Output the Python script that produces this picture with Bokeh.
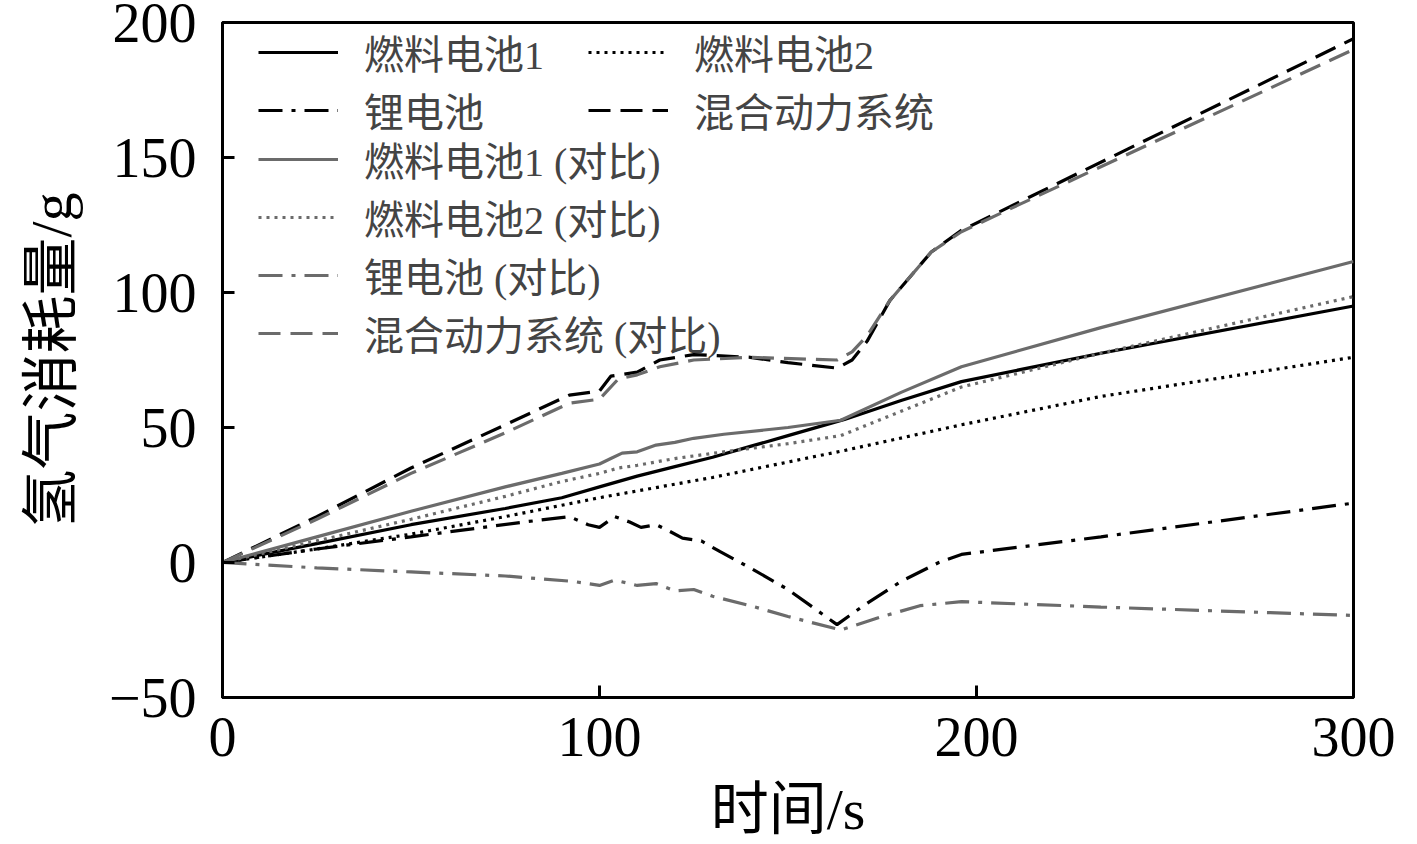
from bokeh.plotting import figure
from bokeh.models import Legend, LegendItem, FixedTicker, Range1d
from bokeh.embed import file_html
from bokeh.resources import INLINE

# ---- data ----
t_fc1 = [0, 25, 50, 75, 90, 100, 110, 120, 130, 140, 150, 165, 180, 196, 233, 300]
v_fc1 = [0, 7, 14, 20, 24, 28, 32, 35.5, 39, 43, 47, 53, 60, 67, 77.5, 95]

t_fc2 = [0, 25, 50, 75, 100, 130, 165, 196, 233, 300]
v_fc2 = [0, 5, 10.5, 17, 24, 31.5, 41.5, 51, 61.5, 76]

t_li = [0, 25, 50, 80, 92, 97, 100, 104, 108, 111, 115, 118, 122, 127, 132, 140, 150, 163, 170, 180, 190, 196, 233, 300]
v_li = [0, 5, 9.5, 15, 17, 14, 13, 17, 15, 13, 14, 12, 9, 8, 4, -2, -10, -23, -16, -7, 0, 3, 9.5, 22]

t_hy = [0, 25, 50, 75, 92, 100, 103, 110, 116, 125, 140, 150, 163, 167, 171, 177, 188, 196, 300]
v_hy = [0, 17, 35, 51, 62, 63.5, 69, 70.5, 75, 77, 76, 74, 72, 75, 82, 97, 115, 123, 194]

t_fc1c = [0, 25, 50, 75, 90, 100, 103, 106, 110, 115, 120, 125, 133, 150, 164, 180, 196, 233, 300]
v_fc1c = [0, 9.5, 19, 28, 33, 36.5, 38.5, 40.5, 41, 43.5, 44.5, 46, 47.5, 50, 52.7, 63, 72.5, 87, 111.5]

t_fc2c = [0, 25, 50, 75, 90, 100, 105, 110, 120, 133, 150, 164, 180, 196, 233, 300]
v_fc2c = [0, 8, 16, 24.5, 30, 33, 35, 36, 38.5, 41, 44, 47, 56, 65, 77.5, 98.5]

t_lic = [0, 25, 50, 75, 93, 100, 104, 110, 115, 120, 125, 130, 140, 150, 164, 175, 185, 196, 233, 300]
v_lic = [0, -2, -3.5, -5, -7, -8.5, -6.5, -8.5, -7.8, -10.5, -10, -12.5, -16, -20, -25, -20, -16, -14.5, -16.5, -19.6]

t_hyc = [0, 25, 50, 75, 92, 100, 105, 110, 116, 125, 140, 163, 167, 171, 177, 188, 196, 212, 300]
v_hyc = [0, 16, 33, 48, 59, 60.5, 68, 69.5, 72.5, 75, 76, 75, 78, 84, 97, 115, 122.5, 133, 190]

x_ticks = [0, 100, 200, 300]
y_ticks = [-50, 0, 50, 100, 150, 200]

labels = ["燃料电池1", "燃料电池2", "锂电池", "混合动力系统",
          "燃料电池1 (对比)", "燃料电池2 (对比)", "锂电池 (对比)", "混合动力系统 (对比)"]

FONT = "'Liberation Serif', 'Noto Sans CJK SC'"
BLACK = "#000000"
GRAY = "#6b6b6b"
LW = 3.2

p = figure(width=1417, height=844, output_backend="svg", toolbar_location=None,
           x_range=Range1d(0, 300), y_range=Range1d(-50, 200),
           min_border_left=222, min_border_right=64, min_border_top=22, min_border_bottom=146)
p.grid.visible = False
p.outline_line_color = "black"
p.outline_line_width = 3
p.background_fill_color = "white"
p.border_fill_color = "white"

dash = "22 10"
dot = "3 5"
dashdot = "24 9 4 9"

r_fc1 = p.line(t_fc1, v_fc1, line_color=BLACK, line_width=LW)
r_fc2 = p.line(t_fc2, v_fc2, line_color=BLACK, line_width=LW, line_dash=dot)
r_li = p.line(t_li, v_li, line_color=BLACK, line_width=LW, line_dash=dashdot)
r_hy = p.line(t_hy, v_hy, line_color=BLACK, line_width=LW, line_dash=dash)
r_fc1c = p.line(t_fc1c, v_fc1c, line_color=GRAY, line_width=LW)
r_fc2c = p.line(t_fc2c, v_fc2c, line_color=GRAY, line_width=LW, line_dash=dot)
r_lic = p.line(t_lic, v_lic, line_color=GRAY, line_width=LW, line_dash=dashdot)
r_hyc = p.line(t_hyc, v_hyc, line_color=GRAY, line_width=LW, line_dash=dash)

for ax in (p.xaxis[0], p.yaxis[0]):
    ax.axis_line_width = 3
    ax.major_tick_line_width = 3
    ax.major_tick_in = 12
    ax.major_tick_out = 0
    ax.minor_tick_line_color = None
    ax.major_label_text_font = FONT
    ax.major_label_text_font_size = "56px"
    ax.major_label_text_color = "black"
    ax.axis_label_text_font = FONT
    ax.axis_label_text_font_size = "58px"
    ax.axis_label_text_font_style = "normal"
    ax.axis_label_text_color = "black"

p.xaxis.ticker = FixedTicker(ticks=x_ticks)
p.yaxis.ticker = FixedTicker(ticks=y_ticks)
p.yaxis.major_label_overrides = {-50: "\u221250"}
p.xaxis.axis_label = "时间/s"
p.yaxis.axis_label = "氢气消耗量/g"
p.xaxis.major_label_standoff = 20
p.yaxis.major_label_standoff = 26
p.xaxis.axis_label_standoff = 18
p.yaxis.axis_label_standoff = 22


def mk_legend(items, loc):
    return Legend(items=items, ncols=1, location=loc,
                  glyph_width=80, glyph_height=40, label_height=40,
                  label_text_font=FONT, label_text_font_size="40px",
                  label_standoff=26, spacing=-4, padding=0, margin=0,
                  border_line_color=None, background_fill_alpha=0)


lgA = mk_legend([LegendItem(label=labels[0], renderers=[r_fc1]),
                 LegendItem(label=labels[2], renderers=[r_li])], (36, 558))
lgB = mk_legend([LegendItem(label=labels[1], renderers=[r_fc2]),
                 LegendItem(label=labels[3], renderers=[r_hy])], (366, 558))
lgC = mk_legend([LegendItem(label=labels[4], renderers=[r_fc1c]),
                 LegendItem(label=labels[5], renderers=[r_fc2c]),
                 LegendItem(label=labels[6], renderers=[r_lic]),
                 LegendItem(label=labels[7], renderers=[r_hyc])], (36, 335))
p.add_layout(lgA)
p.add_layout(lgB)
p.add_layout(lgC)

open("out.html", "w").write(file_html(p, INLINE))
